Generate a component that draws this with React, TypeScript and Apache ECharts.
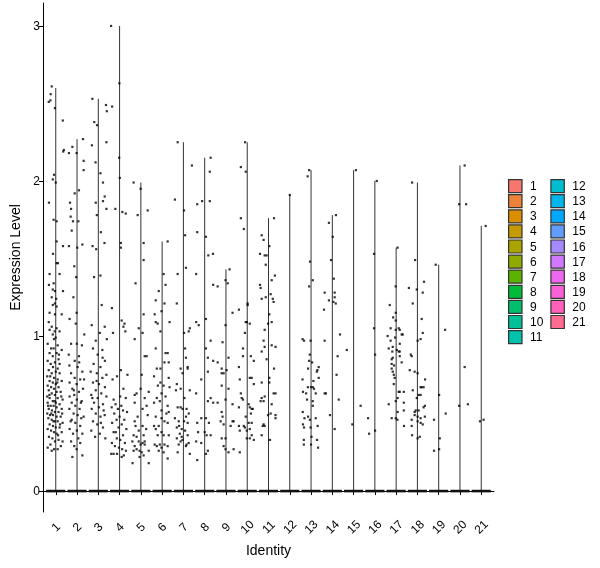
import { useEffect, useRef } from 'react';
import * as echarts from 'echarts';

const clusters = ['1', '2', '3', '4', '5', '6', '7', '8', '9', '10', '11', '12', '13', '14', '15', '16', '17', '18', '19', '20', '21'];

const clusterColors = [
  '#F8766D', '#EC823A', '#DB8E00', '#C59900', '#ABA300', '#8FAA00', '#5BB300',
  '#00BA38', '#00BE6C', '#00C097', '#00C1AA', '#00BDD0', '#00B5E9', '#00A9FF',
  '#619CFF', '#A58AFF', '#D078FF', '#EC69EF', '#FB61D7', '#FF61B8', '#FF6C91',
];

// top of each (collapsed) violin = max expression in the cluster
const violinMax = [2.6, 2.27, 2.53, 3.0, 1.99, 1.61, 2.25, 2.15, 1.43, 2.25, 1.76, 1.91, 2.07, 1.78, 2.07, 2.0, 1.57, 1.99, 1.46, 2.1, 1.71];

const yTicks = [0, 1, 2, 3];

// cells with non-zero expression: [jitter, value]
const pts1 = [
  [-0.19, 2.61], [-0.24, 2.56], [-0.33, 2.51], [-0.25, 2.52], [-0.04, 2.47], [0.33, 2.39], [0.38, 2.2], [0.35, 2.19],
  [-0.08, 2.04], [-0.14, 2.01], [0, 1.99], [-0.32, 1.86], [-0.1, 1.75], [0.04, 1.74], [-0.13, 1.53], [0.04, 1.61],
  [0.34, 1.58], [0.04, 1.47], [0.1, 1.47], [-0.29, 1.4], [0.18, 1.4], [-0.32, 1.33], [-0.1, 1.34], [-0.14, 1.3],
  [-0.04, 1.29], [0.34, 1.29], [-0.19, 1.25], [0.02, 1.24], [-0.04, 1.21], [-0.14, 1.2], [0.04, 1.19], [-0.29, 1.15],
  [-0.04, 1.14], [0.28, 1.14], [-0.33, 1.09], [-0.19, 1.06], [0.04, 1.05], [-0.29, 1.04], [-0.05, 1.03], [0.18, 1.03],
  [-0.14, 1.01], [0, 0.99], [-0.08, 0.98], [-0.38, 0.95], [0.09, 0.94], [-0.22, 0.92], [-0.1, 0.92], [0.28, 0.91],
  [-0.29, 0.89], [0.04, 0.89], [-0.14, 0.87], [0.13, 0.85], [-0.38, 0.84], [-0.04, 0.83], [-0.24, 0.82], [0.18, 0.82],
  [-0.13, 0.8], [0.09, 0.79], [-0.33, 0.78], [0, 0.77], [-0.19, 0.76], [0.18, 0.76], [-0.4, 0.74], [-0.08, 0.73],
  [0.09, 0.72], [-0.29, 0.71], [0.28, 0.71], [-0.14, 0.7], [0, 0.69], [-0.38, 0.68], [-0.22, 0.67], [0.13, 0.67],
  [-0.08, 0.66], [-0.33, 0.65], [0.04, 0.64], [0.23, 0.64], [-0.19, 0.63], [-0.04, 0.62], [-0.4, 0.61], [-0.29, 0.6],
  [0.09, 0.6], [0.32, 0.59], [-0.14, 0.58], [0, 0.57], [-0.38, 0.57], [0.18, 0.56], [-0.24, 0.55], [-0.1, 0.55],
  [0.04, 0.54], [-0.33, 0.53], [0.28, 0.53], [-0.18, 0.52], [-0.04, 0.51], [0.13, 0.51], [-0.4, 0.5], [-0.27, 0.49],
  [-0.13, 0.49], [0.04, 0.48], [0.23, 0.48], [-0.35, 0.47], [-0.19, 0.46], [-0.05, 0.45], [0.09, 0.45], [0.32, 0.44],
  [-0.29, 0.43], [-0.13, 0.42], [0, 0.41], [0.18, 0.41], [-0.38, 0.4], [-0.22, 0.39], [-0.08, 0.38], [0.28, 0.38],
  [0.04, 0.37], [-0.32, 0.35], [-0.16, 0.34], [0.13, 0.33], [-0.04, 0.32], [-0.25, 0.3], [0.24, 0.29], [-0.38, 0.28],
  [-0.08, 0.27], [0.09, 0.27], [0.32, 0.32], [-0.19, 0.26], [0.2, 0.43], [-0.3, 0.62], [0.15, 0.88], [-0.05, 0.58],
  [0.26, 0.61], [-0.21, 0.5], [0.07, 0.7], [-0.11, 0.45], [0.3, 0.5], [-0.36, 0.55], [0.11, 0.36], [-0.26, 0.74],
];

const pts2 = [
  [0.28, 2.27], [-0.22, 2.22], [-0.38, 2.18], [-0.02, 2.18], [0.31, 2.13], [0.31, 2.07], [-0.11, 1.92], [0.09, 1.94],
  [-0.33, 1.86], [-0.28, 1.82], [-0.3, 1.77], [-0.19, 1.74], [0.06, 1.74], [-0.25, 1.68], [0.25, 1.59], [-0.38, 1.58],
  [0.01, 1.57], [-0.13, 1.45], [-0.04, 1.38], [-0.17, 1.25], [-0.02, 1.15], [-0.35, 1.11], [-0.06, 1.08], [0.34, 1.01],
  [-0.28, 0.95], [-0.01, 0.95], [0.23, 0.94], [-0.39, 0.88], [0.09, 0.87], [-0.11, 0.84], [-0.36, 0.81], [0.03, 0.8],
  [0.25, 0.77], [-0.28, 0.76], [-0.11, 0.73], [0.15, 0.72], [-0.35, 0.7], [-0.02, 0.69], [-0.22, 0.66], [0.28, 0.66],
  [0.09, 0.64], [-0.13, 0.62], [-0.35, 0.61], [-0.01, 0.59], [0.22, 0.58], [-0.25, 0.57], [-0.08, 0.55], [0.12, 0.53],
  [-0.36, 0.53], [-0.16, 0.5], [0.03, 0.49], [0.31, 0.48], [-0.25, 0.46], [-0.08, 0.44], [0.15, 0.42], [-0.35, 0.4],
  [-0.01, 0.39], [-0.19, 0.37], [0.25, 0.37], [0.06, 0.34], [-0.28, 0.32], [-0.13, 0.29], [0.15, 0.31], [-0.02, 0.27],
  [-0.22, 0.22], [0.25, 0.23], [0.18, 0.57], [-0.3, 0.45], [0.1, 0.83], [-0.15, 0.65], [0.2, 0.47], [0.33, 0.72],
];

const pts3 = [
  [-0.28, 2.53], [0.36, 2.49], [0.4, 2.45], [-0.06, 2.36], [-0.19, 2.38], [-0.3, 2.23], [0.38, 2.25], [-0.13, 2.12],
  [0.1, 2.05], [0.22, 1.99], [0.3, 1.9], [0.22, 1.87], [0.38, 1.82], [-0.12, 1.86], [-0.07, 1.78], [0.12, 1.67],
  [0.29, 1.6], [-0.27, 1.58], [-0.1, 1.56], [-0.2, 1.38], [0.1, 1.39], [0.16, 1.2], [0.3, 1.06], [-0.31, 1.07],
  [0.07, 1.02], [0.4, 0.98], [-0.12, 0.97], [-0.25, 0.92], [0.19, 0.91], [-0.03, 0.88], [0.31, 0.84], [-0.22, 0.82],
  [0.1, 0.8], [-0.36, 0.77], [-0.07, 0.76], [0.38, 0.75], [0.19, 0.73], [-0.25, 0.7], [0.03, 0.69], [0.31, 0.67],
  [-0.12, 0.65], [0.14, 0.63], [-0.33, 0.62], [0.38, 0.61], [-0.03, 0.6], [-0.2, 0.57], [0.22, 0.56], [0.03, 0.54],
  [-0.31, 0.53], [-0.12, 0.5], [0.3, 0.49], [0.1, 0.48], [-0.25, 0.45], [-0.05, 0.43], [0.22, 0.41], [-0.33, 0.39],
  [0.07, 0.37], [-0.15, 0.35], [0.33, 0.34], [0.25, 0.52], [-0.28, 0.6], [0.12, 0.44], [-0.08, 0.71], [0.2, 0.86],
];

const pts4 = [
  [-0.4, 3.0], [-0.01, 2.63], [-0.35, 2.48], [-0.02, 2.15], [0.01, 2.02], [-0.2, 1.82], [0.13, 1.8], [0.29, 1.79],
  [0.06, 1.6], [0.06, 1.57], [-0.36, 1.18], [0.1, 1.1], [0.23, 1.08], [0.18, 1.06], [-0.31, 1.02], [0.27, 1.03],
  [0.06, 0.78], [0.37, 0.75], [-0.12, 0.74], [-0.33, 0.72], [0.18, 0.66], [-0.28, 0.59], [0.03, 0.61], [0.29, 0.6],
  [-0.19, 0.56], [-0.37, 0.54], [-0.08, 0.53], [0.16, 0.52], [0.35, 0.51], [-0.25, 0.5], [0, 0.48], [-0.14, 0.46],
  [0.22, 0.46], [-0.35, 0.44], [0.1, 0.43], [-0.05, 0.41], [0.32, 0.4], [-0.28, 0.38], [0.16, 0.36], [-0.13, 0.34],
  [0.03, 0.33], [-0.36, 0.31], [0.25, 0.31], [-0.22, 0.29], [-0.03, 0.28], [0.12, 0.27], [-0.39, 0.24], [-0.28, 0.24],
  [-0.12, 0.24], [0.2, 0.23], [0.1, 0.22], [0.3, 0.26], [-0.18, 0.38], [0.08, 0.55],
];

const pts5 = [
  [-0.01, 1.95], [-0.34, 1.99], [-0.15, 1.78], [0.32, 1.81], [0.13, 1.6], [0.13, 1.49], [-0.25, 1.34], [0.13, 1.14],
  [-0.29, 0.98], [-0.1, 1.05], [0.08, 1.02], [0.27, 0.87], [0.18, 0.87], [0.04, 0.75], [-0.01, 0.66], [-0.2, 0.63],
  [-0.29, 0.62], [0.37, 0.64], [0.18, 0.6], [-0.29, 0.57], [0.08, 0.53], [0.27, 0.55], [0.32, 0.49], [-0.29, 0.45],
  [-0.25, 0.42], [0.08, 0.42], [-0.1, 0.39], [-0.34, 0.36], [-0.2, 0.35], [0.13, 0.36], [-0.4, 0.32], [-0.1, 0.32],
  [0.08, 0.31], [-0.29, 0.29], [-0.01, 0.3], [0.18, 0.3], [-0.2, 0.27], [-0.06, 0.26], [0.04, 0.25], [-0.34, 0.26],
  [0.37, 0.26], [0.13, 0.23], [-0.39, 0.18], [0.37, 0.18], [-0.06, 0.22], [0.18, 0.32], [0.25, 0.4], [-0.15, 0.48],
];

const pts6 = [
  [0.26, 1.61], [0.07, 1.4], [0.16, 1.33], [-0.16, 1.29], [-0.3, 1.23], [0.11, 1.21], [-0.03, 1.16], [-0.35, 1.14],
  [-0.3, 1.09], [0.35, 1.09], [-0.21, 1.08], [-0.08, 1.03], [-0.3, 0.92], [0.16, 0.89], [0.26, 0.89], [0.11, 0.83],
  [0.31, 0.83], [-0.25, 0.79], [-0.08, 0.79], [-0.38, 0.74], [0.31, 0.73], [-0.08, 0.7], [0.07, 0.68], [0.35, 0.67],
  [-0.03, 0.63], [0.16, 0.61], [-0.25, 0.6], [-0.11, 0.58], [-0.38, 0.57], [0.26, 0.55], [-0.03, 0.52], [0.31, 0.51],
  [-0.3, 0.48], [-0.03, 0.47], [0.11, 0.45], [0.26, 0.44], [-0.38, 0.42], [-0.16, 0.42], [-0.3, 0.4], [-0.03, 0.38],
  [0.31, 0.36], [-0.21, 0.36], [0.07, 0.36], [-0.35, 0.3], [-0.11, 0.3], [-0.25, 0.29], [-0.03, 0.28], [0.11, 0.3],
  [0.26, 0.29], [-0.16, 0.26], [0.07, 0.25], [0.26, 0.21], [0.2, 0.5], [-0.2, 0.68],
];

const pts7 = [
  [-0.27, 2.25], [0.4, 2.1], [-0.4, 1.88], [0.03, 1.81], [0.08, 1.65], [0.12, 1.44], [-0.27, 1.4], [-0.31, 1.21],
  [0.03, 1.02], [0.25, 1.03], [0.3, 1.05], [0.08, 0.92], [0.12, 0.86], [0.2, 0.79], [0.2, 0.8], [-0.13, 0.79],
  [-0.04, 0.76], [-0.31, 0.69], [-0.13, 0.66], [-0.35, 0.65], [0.3, 0.65], [-0.27, 0.54], [-0.13, 0.54], [-0.04, 0.53],
  [0.15, 0.53], [0.25, 0.5], [0.12, 0.48], [-0.4, 0.47], [-0.22, 0.45], [0.03, 0.45], [0.2, 0.44], [-0.31, 0.41],
  [-0.08, 0.4], [0.08, 0.39], [-0.17, 0.37], [0.2, 0.36], [-0.31, 0.34], [-0.04, 0.33], [-0.22, 0.3], [0.12, 0.29],
  [0.25, 0.31], [-0.27, 0.25], [-0.13, 0.32], [0.3, 0.24], [-0.08, 0.35], [0.15, 0.3], [0.05, 0.6], [-0.2, 0.42],
];

const pts8 = [
  [0.28, 2.15], [0.24, 2.06], [-0.35, 1.85], [-0.12, 1.87], [0.24, 1.87], [-0.35, 1.67], [0.06, 1.64], [0.39, 1.53],
  [0.17, 1.52], [-0.4, 1.4], [0.4, 1.33], [-0.4, 1.09], [-0.28, 1.07], [0.06, 1.11], [0.28, 0.97], [0.06, 0.92],
  [0.15, 0.86], [0.15, 0.77], [0.4, 0.84], [-0.16, 0.72], [-0.4, 0.63], [0.15, 0.58], [0.4, 0.57], [0.28, 0.6],
  [-0.35, 0.44], [-0.16, 0.47], [0.06, 0.47], [0.2, 0.44], [-0.31, 0.38], [0, 0.38], [-0.4, 0.32], [-0.16, 0.31],
  [0.09, 0.36], [0.28, 0.36], [-0.35, 0.2], [0.15, 0.26], [0.06, 0.24],
];

const pts9 = [
  [0.17, 1.43], [-0.02, 1.36], [-0.39, 1.32], [0.08, 1.34], [0.31, 1.15], [-0.02, 1.07], [-0.16, 0.96], [0.12, 0.86],
  [-0.39, 0.83], [-0.2, 0.79], [0.03, 0.78], [-0.2, 0.76], [-0.11, 0.76], [-0.2, 0.68], [0.12, 0.66], [-0.39, 0.57],
  [-0.02, 0.59], [0.31, 0.56], [-0.2, 0.51], [-0.16, 0.48], [-0.25, 0.45], [-0.11, 0.43], [0.31, 0.45], [0.36, 0.45],
  [0.22, 0.42], [-0.2, 0.34], [-0.02, 0.34], [-0.11, 0.29], [-0.02, 0.27], [0.12, 0.25], [0.36, 0.27],
];

const pts10 = [
  [-0.1, 2.25], [-0.3, 2.09], [-0.07, 2.06], [-0.3, 1.76], [-0.16, 1.69], [0.02, 1.21], [0.02, 1.2], [-0.39, 1.17],
  [-0.07, 1.09], [-0.02, 1.09], [0.12, 1.08], [-0.11, 1.02], [-0.2, 0.92], [-0.2, 0.87], [0.17, 0.87], [0.31, 0.84],
  [-0.39, 0.8], [0.12, 0.73], [0.21, 0.73], [-0.35, 0.72], [0.31, 0.69], [-0.3, 0.63], [-0.26, 0.6], [-0.2, 0.59],
  [-0.39, 0.54], [0.07, 0.56], [0.12, 0.54], [0.21, 0.53], [0.26, 0.53], [-0.07, 0.48], [0.17, 0.5], [-0.16, 0.42],
  [-0.39, 0.42], [-0.11, 0.41], [0.07, 0.44], [0.21, 0.44], [-0.02, 0.39], [0.12, 0.4], [-0.35, 0.39], [0.21, 0.36],
  [0.12, 0.34], [-0.02, 0.34], [0.31, 0.33], [-0.35, 0.25],
];

const pts11 = [
  [0.26, 1.76], [-0.32, 1.65], [-0.23, 1.62], [0.04, 1.58], [-0.4, 1.53], [-0.18, 1.52], [-0.09, 1.52], [-0.13, 1.46],
  [0.3, 1.39], [0.15, 1.36], [-0.4, 1.33], [-0.37, 1.31], [0.1, 1.27], [-0.32, 1.24], [0.2, 1.24], [0.24, 1.22],
  [-0.13, 1.25], [0.04, 1.14], [-0.02, 1.08], [-0.18, 1.04], [0.15, 1.09], [-0.23, 0.97], [-0.32, 0.9], [-0.18, 0.93],
  [0.15, 0.94], [0.33, 0.93], [-0.09, 0.85], [0.26, 0.79], [0.04, 0.73], [0.04, 0.7], [-0.32, 0.7], [0.24, 0.63],
  [0.33, 0.63], [-0.32, 0.6], [-0.18, 0.61], [-0.37, 0.58], [-0.23, 0.58], [0.15, 0.56], [-0.02, 0.49], [0.1, 0.5],
  [0.33, 0.49], [0.33, 0.47], [-0.23, 0.43], [-0.27, 0.42], [-0.18, 0.42], [-0.32, 0.36], [0.07, 0.33],
];

const pts12 = [[0, 1.91]];

const pts13 = [
  [-0.09, 2.07], [-0.16, 2.03], [-0.05, 1.48], [0.08, 1.36], [-0.09, 1.32], [-0.4, 0.98], [-0.33, 0.97], [-0.02, 0.97],
  [-0.06, 0.88], [-0.09, 0.84], [0.05, 0.83], [0.36, 0.8], [0.3, 0.78], [-0.14, 0.79], [0.27, 0.77], [0.36, 0.73],
  [-0.4, 0.72], [0.11, 0.71], [-0.15, 0.67], [0, 0.67], [0.08, 0.67], [0.14, 0.66], [-0.38, 0.64], [-0.23, 0.63],
  [0.22, 0.63], [-0.19, 0.59], [0.08, 0.58], [0.08, 0.55], [-0.39, 0.51], [-0.14, 0.48], [-0.31, 0.47], [-0.05, 0.46],
  [0.22, 0.47], [-0.38, 0.43], [-0.33, 0.41], [-0.02, 0.41], [0.31, 0.42], [-0.34, 0.33], [0.02, 0.35], [0.28, 0.33],
  [-0.34, 0.3], [0, 0.3], [0.33, 0.28],
];

const pts14 = [
  [0.17, 1.78], [-0.16, 1.73], [0.02, 1.64], [-0.06, 1.49], [0.07, 1.37], [-0.36, 1.28], [0.11, 1.28], [0.11, 1.25],
  [-0.16, 1.23], [0.05, 1.22], [0.16, 1.21], [-0.39, 1.17], [0.36, 1.01], [-0.36, 0.97], [0.25, 0.87], [0.2, 0.75],
  [-0.36, 0.63], [-0.3, 0.63], [0.3, 0.59], [-0.11, 0.49], [0.11, 0.4],
];

const pts15 = [[0.11, 2.07], [-0.32, 0.91], [0.33, 0.55], [-0.06, 0.43]];

const pts16 = [[0.09, 2.0], [-0.04, 1.53], [-0.04, 1.05], [0.01, 0.88], [-0.32, 0.47], [-0.27, 0.37], [0.01, 0.39]];

const pts17 = [
  [0.07, 1.57], [-0.02, 1.32], [-0.3, 1.2], [-0.14, 1.12], [-0.02, 1.15], [-0.02, 1.1], [-0.26, 1.05], [0.12, 1.05],
  [0.17, 1.04], [-0.02, 1.04], [0.26, 1.01], [0.31, 1.01], [-0.4, 1.0], [-0.05, 0.99], [-0.26, 0.97], [0.17, 0.95],
  [-0.16, 0.93], [-0.35, 0.92], [0.03, 0.91], [0.17, 0.9], [0.12, 0.9], [-0.18, 0.9], [-0.16, 0.86], [0.17, 0.87],
  [-0.21, 0.85], [0.26, 0.83], [-0.21, 0.82], [-0.1, 0.81], [-0.21, 0.79], [-0.16, 0.77], [-0.11, 0.75], [-0.07, 0.73],
  [-0.11, 0.69], [0.12, 0.64], [0.17, 0.64], [0.36, 0.64], [0.07, 0.6], [-0.02, 0.58], [0.36, 0.57], [-0.35, 0.56],
  [0.36, 0.52], [0.07, 0.51], [-0.21, 0.47], [-0.02, 0.47], [0.06, 0.46], [0.37, 0.42],
];

const pts18 = [
  [-0.25, 1.99], [-0.11, 1.49], [0.31, 1.35], [-0.4, 1.31], [-0.03, 1.3], [0.25, 1.28], [-0.22, 1.21], [0.2, 1.11],
  [0.25, 1.02], [0.01, 0.97], [0.15, 0.98], [-0.31, 0.88], [-0.27, 0.87], [-0.36, 0.78], [-0.13, 0.77], [0.01, 0.76],
  [0.36, 0.72], [0.15, 0.67], [0.2, 0.67], [0.29, 0.67], [-0.22, 0.65], [0.15, 0.62], [0.06, 0.62], [-0.03, 0.6],
  [0.35, 0.55], [0.29, 0.54], [-0.08, 0.52], [-0.13, 0.51], [0.06, 0.52], [-0.13, 0.49], [0.01, 0.48], [0.35, 0.48],
  [0.15, 0.47], [-0.27, 0.46], [0.01, 0.45], [0.15, 0.44], [0.25, 0.43], [-0.27, 0.42], [-0.25, 0.36], [0.11, 0.35],
  [0.01, 0.34],
];

const pts19 = [[-0.14, 1.46], [0.3, 1.04], [0.02, 0.62], [0.33, 0.5], [-0.22, 0.46], [0.05, 0.34], [0.02, 0.27], [-0.22, 0.26]];

const pts20 = [[0.22, 2.1], [-0.04, 1.85], [0.29, 1.85], [0.22, 0.8], [0.37, 0.56], [-0.04, 0.55]];

const pts21 = [[0.21, 1.71], [-0.06, 0.45], [0.11, 0.46]];

const cellPoints = [
  pts1, pts2, pts3, pts4, pts5, pts6, pts7, pts8, pts9, pts10, pts11,
  pts12, pts13, pts14, pts15, pts16, pts17, pts18, pts19, pts20, pts21,
];

const FONT = '"Liberation Sans", Arial, sans-serif';

export default function App() {
  const chartRef = useRef<HTMLDivElement>(null);

  useEffect(() => {
    if (!chartRef.current) return;
    const chart = echarts.init(chartRef.current, null, { renderer: 'svg' });

    const xTicks = clusters.map((_, i) => i + 1);

    // one custom series per cluster: collapsed violin (tail line + flat body at 0)
    const violinSeries = clusters.map((name, i) => ({
      name,
      type: 'custom',
      itemStyle: { color: clusterColors[i] },
      data: [[i + 1, violinMax[i]]],
      encode: { x: 0, y: 1 },
      z: 2,
      renderItem: (_params: any, api: any) => {
        const x = api.value(0);
        const top = api.value(1);
        const base = api.coord([x, 0]);
        const peak = api.coord([x, top]);
        const left = api.coord([x - 0.45, 0]);
        const right = api.coord([x + 0.45, 0]);
        return {
          type: 'group',
          children: [
            {
              type: 'line',
              shape: { x1: base[0], y1: base[1], x2: peak[0], y2: peak[1] },
              style: { stroke: '#333', lineWidth: 1 },
            },
            {
              type: 'line',
              shape: { x1: left[0], y1: left[1], x2: right[0], y2: right[1] },
              style: { stroke: '#111', lineWidth: 2.6 },
            },
          ],
        };
      },
    }));

    const scatterData = cellPoints.flatMap((pts, k) => pts.map(([j, v]) => [k + 1 + j, v]));

    chart.setOption({
      animation: false,
      textStyle: { fontFamily: FONT },
      grid: { left: 43, top: 3, width: 451, height: 509 },
      legend: {
        orient: 'vertical',
        left: 508,
        top: 179,
        height: 170,
        padding: 0,
        itemWidth: 13.4,
        itemHeight: 13,
        itemGap: 0.9,
        icon: 'rect',
        itemStyle: { borderColor: '#333', borderWidth: 1.2 },
        textStyle: { color: '#000', fontSize: 12, fontFamily: FONT, lineHeight: 13, width: 19.4, padding: [0, 0, 0, 3] },
        data: clusters,
        selectedMode: false,
      },
      xAxis: {
        type: 'value',
        min: 0.4,
        max: 21.6,
        name: 'Identity',
        nameLocation: 'middle',
        nameGap: 27,
        nameTextStyle: { color: '#000', fontSize: 14, fontFamily: FONT },
        axisLine: { lineStyle: { color: '#000', width: 1 } },
        axisTick: { customValues: xTicks, length: 4, lineStyle: { color: '#000' } },
        axisLabel: {
          customValues: xTicks,
          rotate: 45,
          align: 'center',
          verticalAlign: 'middle',
          margin: 15,
          color: '#000',
          fontSize: 12,
          fontFamily: FONT,
          formatter: (v: number) => clusters[Math.round(v) - 1] ?? '',
        },
        splitLine: { show: false },
      },
      yAxis: {
        type: 'value',
        min: -0.135,
        max: 3.148,
        name: 'Expression Level',
        nameLocation: 'middle',
        nameGap: 12,
        nameTextStyle: { color: '#000', fontSize: 14, fontFamily: FONT },
        axisLine: { show: true, lineStyle: { color: '#000', width: 1 } },
        axisTick: { show: true, customValues: yTicks, length: 4, lineStyle: { color: '#000' } },
        axisLabel: { customValues: yTicks, margin: 3, color: '#000', fontSize: 12, fontFamily: FONT },
        splitLine: { show: false },
      },
      series: [
        ...violinSeries,
        {
          name: 'cells',
          type: 'scatter',
          data: scatterData,
          symbol: 'rect',
          symbolSize: 2.2,
          itemStyle: { color: '#000' },
          z: 3,
          silent: true,
        },
      ],
    });

    return () => chart.dispose();
  }, []);

  return <div ref={chartRef} style={{ position: 'fixed', left: 0, top: 0, width: 600, height: 568 }} />;
}
